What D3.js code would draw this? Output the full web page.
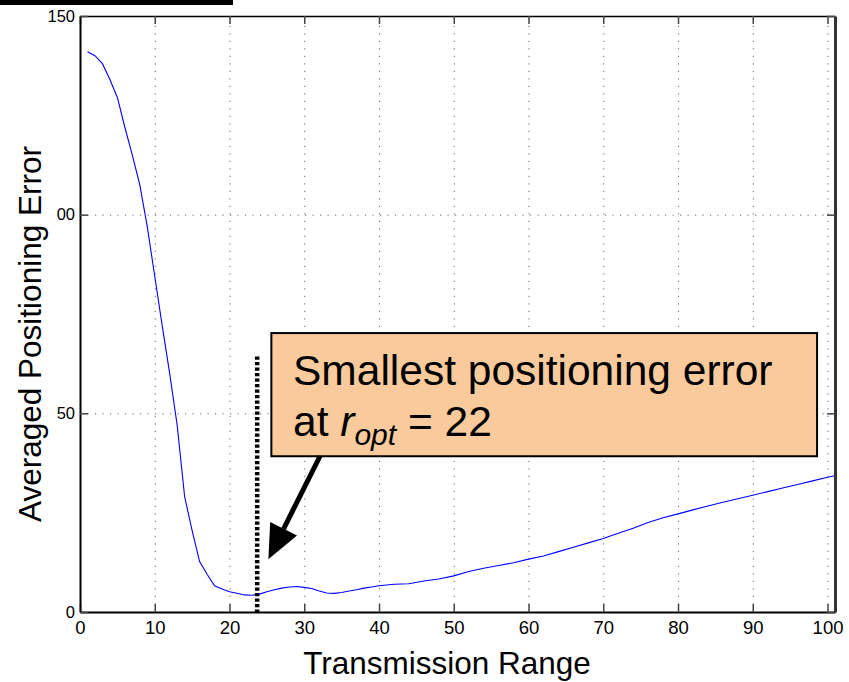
<!DOCTYPE html>
<html>
<head>
<meta charset="utf-8">
<script src="https://cdn.jsdelivr.net/npm/d3@7"></script>
<style>
  body { margin: 0; background: #fff; }
  svg { font-family: Arial, "Liberation Sans", sans-serif; }
</style>
</head>
<body>
<div id="chart"></div>
<script>
"use strict";

// data
var range_x = [1,2,3,4,5,6,7,8,9,10,11,12,13,14,15,16,17,18,19,20,21,22,23,24,25,26,27,28,29,30,
  31,32,33,34,35,36,37,38,39,40,42,44,46,48,50,52,54,56,58,60,62,64,66,68,70,72,74,76,78,80,
  82,84,86,88,90,92,94,96,98,100,101];
var error_y = [141,140,138,134,129.5,122,115,107.5,97,84.5,72,60,47,29,20.5,12.7,9.5,6.6,5.8,5.1,4.7,4.3,4.2,4.5,5.1,5.6,6.0,6.3,6.4,6.2,
  5.9,5.3,4.8,4.7,4.9,5.3,5.6,6.0,6.3,6.6,7.0,7.1,7.8,8.3,9.1,10.2,11.0,11.7,12.4,13.3,14.1,15.2,16.3,17.4,18.5,19.8,21.1,22.5,23.7,24.7,
  25.7,26.7,27.6,28.5,29.4,30.3,31.2,32.1,33.0,33.9,34.3];
var x_ticks = [0,10,20,30,40,50,60,70,80,90,100];
var y_ticks = [0,50,100,150];
var y_tick_labels = ["0","50","00","150"];
var r_opt_line = 23.7;

function draw_chart(){
    var w = 849, h = 682;
    var pl = 80, pt = 16, pr = 835, pb = 612;

    var svg = d3.select("#chart")
        .append("svg")
        .attr("width", w)
        .attr("height", h);

    // black bar at the top left
    svg.append("rect")
        .attr("x", 0).attr("y", 0)
        .attr("width", 233).attr("height", 5)
        .attr("fill", "#000");

    var x = d3.scaleLinear().domain([0, 101]).range([pl, pr]);
    var y = d3.scaleLinear().domain([0, 150]).range([pb, pt]);

    // dotted grid
    var grid = svg.append("g").attr("class", "grid");
    grid.append("g")
        .attr("transform", "translate(0," + pb + ")")
        .call(d3.axisBottom(x).tickValues(x_ticks.slice(1)).tickSize(-(pb - pt)).tickFormat(""))
        .call(function(g){ g.select(".domain").remove(); });
    grid.append("g")
        .attr("transform", "translate(" + pl + ",0)")
        .call(d3.axisLeft(y).tickValues([50, 100]).tickSize(-(pr - pl)).tickFormat(""))
        .call(function(g){ g.select(".domain").remove(); });
    grid.selectAll("line")
        .attr("stroke", "#666")
        .attr("stroke-width", 1)
        .attr("stroke-dasharray", "1.2,6.3");

    // the curve
    var line = d3.line()
        .x(function(d){ return x(d[0]); })
        .y(function(d){ return y(d[1]); });

    svg.append("path")
        .datum(d3.zip(range_x, error_y))
        .attr("fill", "none")
        .attr("stroke", "#0000ff")
        .attr("stroke-width", 1.1)
        .attr("d", line);

    // axes with inward ticks
    var tick_len = 8;
    var xb = svg.append("g")
        .attr("transform", "translate(0," + pb + ")")
        .call(d3.axisBottom(x).tickValues(x_ticks).tickSizeInner(-tick_len).tickSizeOuter(0).tickPadding(9));
    var xt = svg.append("g")
        .attr("transform", "translate(0," + pt + ")")
        .call(d3.axisTop(x).tickValues(x_ticks).tickSizeInner(-tick_len).tickSizeOuter(0).tickFormat(""));
    var yl = svg.append("g")
        .attr("transform", "translate(" + pl + ",0)")
        .call(d3.axisLeft(y).tickValues(y_ticks).tickSizeInner(-tick_len).tickSizeOuter(0).tickPadding(5)
            .tickFormat(function(d,i){ return y_tick_labels[i]; }));
    var yr = svg.append("g")
        .attr("transform", "translate(" + pr + ",0)")
        .call(d3.axisRight(y).tickValues(y_ticks).tickSizeInner(-tick_len).tickSizeOuter(0).tickFormat(""));

    [xb, xt, yl, yr].forEach(function(g){
        g.attr("font-family", null).attr("font-size", null);
        g.selectAll(".tick line").attr("stroke", "#444").attr("stroke-width", 1.5);
        g.select(".domain").attr("stroke", "#000").attr("stroke-width", 2);
    });
    yr.select(".domain").attr("stroke", "#333").attr("stroke-width", 3);
    xt.select(".domain").attr("stroke-width", 1.5);

    xb.selectAll("text")
        .style("font-size", "18.5px")
        .attr("fill", "#000");
    yl.selectAll("text")
        .style("font-size", "16.5px")
        .attr("fill", "#000");

    // axis titles
    svg.append("text")
        .attr("x", 447)
        .attr("y", 674)
        .attr("text-anchor", "middle")
        .style("font-size", "31.5px")
        .text("Transmission Range");

    svg.append("text")
        .attr("transform", "translate(" + 41 + "," + 334 + ") rotate(-90)")
        .attr("text-anchor", "middle")
        .style("font-size", "31.5px")
        .text("Averaged Positioning Error");

    // vertical dotted marker line
    svg.append("line")
        .attr("x1", x(r_opt_line)).attr("x2", x(r_opt_line))
        .attr("y1", y(64.3)).attr("y2", pb + 3)
        .attr("stroke", "#000")
        .attr("stroke-width", 4.5)
        .attr("stroke-dasharray", "3.3,2.2");

    // annotation box (placed in data units)
    var box = { x0: 25.6, x1: 98.6, y0: 70.2, y1: 39.2 };
    svg.append("rect")
        .attr("x", x(box.x0))
        .attr("y", y(box.y0))
        .attr("width", x(box.x1) - x(box.x0))
        .attr("height", y(box.y1) - y(box.y0))
        .attr("fill", "#f9cb9c")
        .attr("stroke", "#000")
        .attr("stroke-width", 2);

    svg.append("text")
        .attr("x", 293)
        .attr("y", 385)
        .style("font-size", "42.5px")
        .text("Smallest positioning error");

    var t2 = svg.append("text")
        .attr("x", 293)
        .attr("y", 436)
        .style("font-size", "42.5px");
    t2.append("tspan").text("at ");
    t2.append("tspan").attr("font-style", "italic").text("r");
    t2.append("tspan").attr("font-style", "italic").style("font-size", "30px").attr("dy", 9).text("opt");
    t2.append("tspan").attr("dy", -9).text(" = 22");

    // arrow
    var tail = [x(32.1), y(39.2)];
    var tip = [x(25.2), y(13.3)];
    var ang = Math.atan2(tip[1] - tail[1], tip[0] - tail[0]);
    var head_len = 34, head_w = 15;
    var base = [tip[0] - head_len * Math.cos(ang), tip[1] - head_len * Math.sin(ang)];
    svg.append("line")
        .attr("x1", tail[0]).attr("y1", tail[1])
        .attr("x2", base[0]).attr("y2", base[1])
        .attr("stroke", "#000")
        .attr("stroke-width", 5);
    svg.append("polygon")
        .attr("points", [
            tip,
            [base[0] + head_w * Math.sin(ang), base[1] - head_w * Math.cos(ang)],
            [base[0] - head_w * Math.sin(ang), base[1] + head_w * Math.cos(ang)]
        ].map(function(p){ return p.join(","); }).join(" "))
        .attr("fill", "#000");
}

draw_chart();
</script>
</body>
</html>
